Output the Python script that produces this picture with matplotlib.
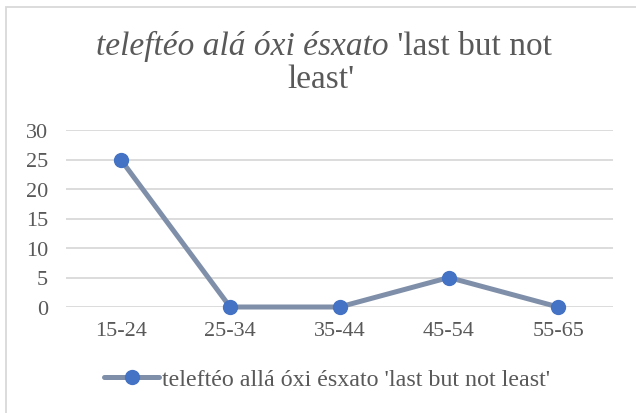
import matplotlib
matplotlib.use("Agg")
import matplotlib.pyplot as plt
import matplotlib.patches as mpatches
import numpy as np

categories = ['15-24', '25-34', '35-44', '45-54', '55-65']
values = [25, 0, 0, 5, 0]
yticks = [0, 5, 10, 15, 20, 25, 30]
series_name = "teleftéo allá óxi ésxato 'last but not least'"
title_italic = "teleftéo alá óxi ésxato"
title_rest = " 'last but not"
title_line2 = "least'"

txt = '#595959'
plt.rcParams['font.family'] = 'Liberation Serif'

fig = plt.figure(figsize=(6.36, 4.14), dpi=100)
ax = fig.add_axes([66/636, 1-308/414, (613-66)/636, (308-131)/414])

x = np.arange(len(categories))
line, = ax.plot(x, values, color='#7F8FA9', lw=3.6, marker='o', markersize=10,
                markerfacecolor='#4472C4', markeredgecolor='#4472C4', zorder=3,
                solid_capstyle='round')

ax.set_xlim(-0.5, len(categories) - 0.5)
ax.set_ylim(0, 30)
ax.set_yticks(yticks)
ax.set_xticks(x)
ax.set_xticklabels(categories)
ax.yaxis.grid(True, color='#D9D9D9', lw=1.3)
ax.set_axisbelow(True)
for s in ax.spines.values():
    s.set_visible(False)
ax.tick_params(axis='both', length=0, labelsize=16, labelcolor=txt)
ax.tick_params(axis='y', pad=13)
ax.tick_params(axis='x', pad=10)
line.set_clip_on(False)

# title: italic part + regular part on line 1, centered
r = fig.canvas.get_renderer()
t1 = fig.text(0, 1-55/414, title_italic, fontsize=24, family='Liberation Serif',
              style='italic', color=txt, va='baseline')
t2 = fig.text(0, 1-55/414, title_rest, fontsize=24, family='Liberation Serif',
              color=txt, va='baseline')
w1 = t1.get_window_extent(r).width
w2 = t2.get_window_extent(r).width
x0 = 324 - (w1 + w2) / 2
t1.set_x(x0 / 636)
t2.set_x((x0 + w1) / 636)
fig.text(321/636, 1-88/414, title_line2, fontsize=24, family='Liberation Serif',
         color=txt, ha='center', va='baseline')

leg = fig.legend([line], [series_name], loc='center', bbox_to_anchor=(327/636, 1-380/414),
                 frameon=False, fontsize=17.3, handlelength=2.3, handletextpad=0.1,
                 labelcolor=txt)

fig.patches.append(mpatches.Rectangle((6/636, -0.1), 1.0, (414-8)/414 + 0.1,
                                      transform=fig.transFigure, fill=False,
                                      edgecolor='#D9D9D9', lw=1.3))

fig.savefig('out.png', dpi=100)
